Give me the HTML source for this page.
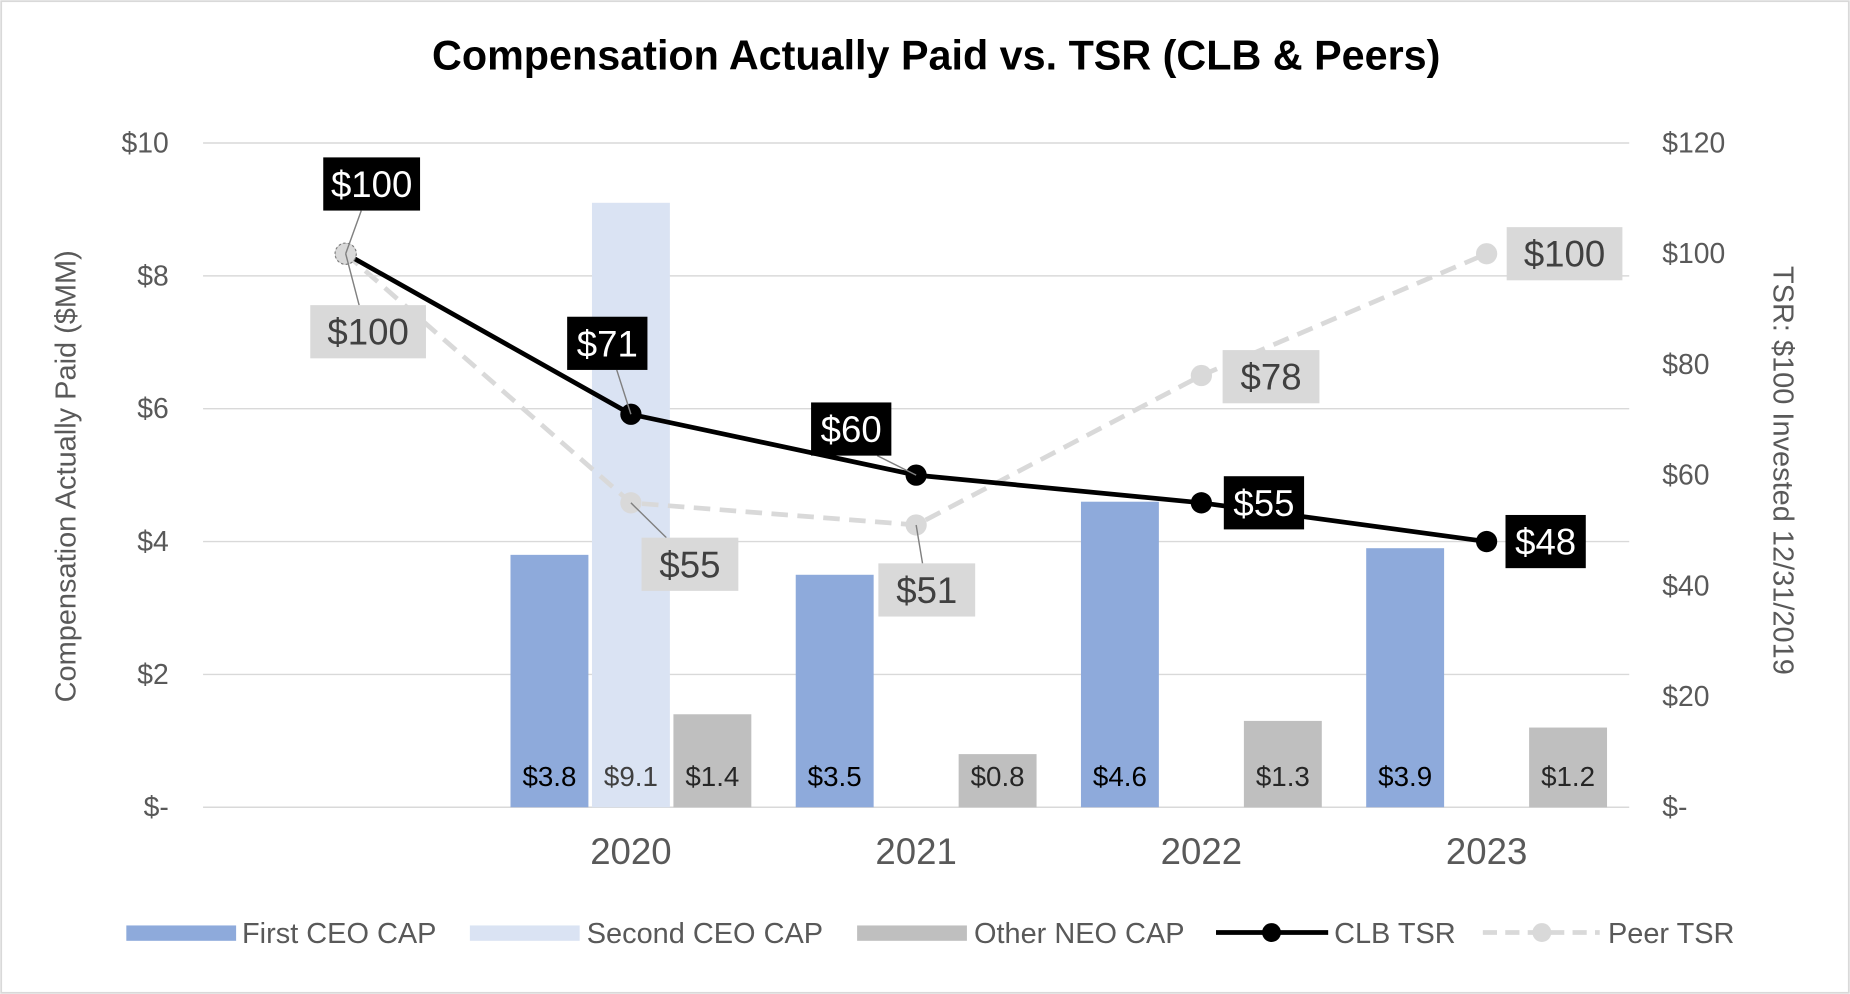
<!DOCTYPE html>
<html><head><meta charset="utf-8"><style>
html,body{margin:0;padding:0;background:#fff;}
svg{display:block;font-family:"Liberation Sans",Arial,sans-serif;}
</style></head><body>
<svg id="chart" width="1850" height="994" viewBox="0 0 1567 841" preserveAspectRatio="none" xmlns="http://www.w3.org/2000/svg">
<rect x="1" y="1" width="1565" height="839" fill="#fff" stroke="#d9d9d9" stroke-width="1.5"/>
<text x="793" y="59" text-anchor="middle" font-size="35" font-weight="bold" fill="#000">Compensation Actually Paid vs. TSR (CLB &amp; Peers)</text>
<g id="grid"></g><g id="bars"></g><g id="lines"></g><g id="labels"></g>
<text transform="translate(64,403) rotate(-90)" text-anchor="middle" font-size="24.5" fill="#595959">Compensation Actually Paid ($MM)</text>
<text transform="translate(1502,398) rotate(90)" text-anchor="middle" font-size="24.5" fill="#595959">TSR: $100 Invested 12/31/2019</text>
<g font-size="24.5" fill="#595959">
<rect x="107" y="783" width="93" height="13" fill="#8eaadb"/>
<text x="205" y="798">First CEO CAP</text>
<rect x="398" y="783" width="93" height="13" fill="#dae3f3"/>
<text x="497" y="798">Second CEO CAP</text>
<rect x="726" y="783" width="93" height="13" fill="#bfbfbf"/>
<text x="825" y="798">Other NEO CAP</text>
<line x1="1030" y1="789" x2="1125" y2="789" stroke="#000" stroke-width="4"/>
<circle cx="1077" cy="789" r="8" fill="#000"/>
<text x="1130" y="798">CLB TSR</text>
<line x1="1256" y1="789" x2="1355" y2="789" stroke="#d9d9d9" stroke-width="4" stroke-dasharray="12,7"/>
<circle cx="1306" cy="789" r="8" fill="#d9d9d9"/>
<text x="1362" y="798">Peer TSR</text>
</g>
</svg>
<script>
const categories = ["", "2020", "2021", "2022", "2023"];
const firstCeo = [null, 3.8, 3.5, 4.6, 3.9];
const secondCeo = [null, 9.1, null, null, null];
const otherNeo = [null, 1.4, 0.8, 1.3, 1.2];
const clbTsr = [100, 71, 60, 55, 48];
const peerTsr = [100, 55, 51, 78, 100];
const leftTicks = ["$-", "$2", "$4", "$6", "$8", "$10"];
const rightTicks = ["$-", "$20", "$40", "$60", "$80", "$100", "$120"];

const NS = "http://www.w3.org/2000/svg";
const X0 = 172, X1 = 1380, Y0 = 683, YT = 121;
const slot = (X1 - X0) / categories.length;
const xC = i => X0 + slot * (i + 0.5);
const yL = v => Y0 - (v / 10) * (Y0 - YT);
const yR = v => Y0 - (v / 120) * (Y0 - YT);
function mk(tag, attrs, parent, text) {
  const e = document.createElementNS(NS, tag);
  for (const k in attrs) e.setAttribute(k, attrs[k]);
  if (text !== undefined) e.textContent = text;
  document.getElementById(parent).appendChild(e);
  return e;
}
leftTicks.forEach((t, i) => {
  const y = yL(i * 2);
  const g = mk("line", {x1: X0, x2: X1, y1: y, y2: y, stroke: "#d9d9d9", "stroke-width": 1.2}, "grid");
  
  
  const l = mk("text", {x: 143, y: y + 8, "text-anchor": "end", "font-size": 24, fill: "#595959"}, "grid", t);
  
  
});
rightTicks.forEach((t, i) => {
  const y = yR(i * 20);
  const l = mk("text", {x: 1408, y: y + 8, "font-size": 24, fill: "#595959"}, "grid", t);
  
  
});
categories.forEach((c, i) => {
  const l = mk("text", {x: xC(i), y: 731, "text-anchor": "middle", "font-size": 31, fill: "#595959"}, "grid", c);
  
  
});
const bw = 66;
const series = [[firstCeo, -69, "#8eaadb", "#000", "bar-first-ceo"], [secondCeo, 0, "#dae3f3", "#404040", "bar-second-ceo"], [otherNeo, 69, "#bfbfbf", "#262626", "bar-other-neo"]];
series.forEach(([arr, off, col, tc, name]) => {
  arr.forEach((v, i) => {
    if (v == null) return;
    const x = xC(i) + off - bw / 2;
    const b = mk("rect", {x: x, y: yL(v), width: bw, height: Y0 - yL(v), fill: col}, "bars");
    
    
    const t = mk("text", {x: x + bw / 2, y: 665, "text-anchor": "middle", "font-size": 23.5, fill: tc}, "bars", "$" + v.toFixed(1));
    
    
  });
});
function pts(arr) { return arr.map((v, i) => xC(i) + "," + yR(v)).join(" "); }
const pl = mk("polyline", {points: pts(peerTsr), fill: "none", stroke: "#d9d9d9", "stroke-width": 4, "stroke-dasharray": "14,8"}, "lines");


peerTsr.forEach((v, i) => {
  if (i === 0) return;
  const c = mk("circle", {cx: xC(i), cy: yR(v), r: 9, fill: "#d9d9d9"}, "lines");
  
  
});
const cl = mk("polyline", {points: pts(clbTsr), fill: "none", stroke: "#000", "stroke-width": 4}, "lines");


clbTsr.forEach((v, i) => {
  const c = mk("circle", {cx: xC(i), cy: yR(v), r: 9, fill: "#000"}, "lines");
  
  
});
const p0 = mk("circle", {cx: xC(0), cy: yR(peerTsr[0]), r: 9, fill: "#d9d9d9", stroke: "#7f7f7f", "stroke-width": 1, "stroke-dasharray": "2,2"}, "lines");



const clbOff = [[22, -59], [-20, -60], [-55, -39], [53, 0], [50, 0]];
const peerOff = [[19, 66], [50, 52], [9, 55], [59, 1], [66, 0]];
function label(arr, offs, fill, tc, name, perChar, pad) {
  arr.forEach((v, i) => {
    const px = xC(i), py = yR(v);
    const cx = px + offs[i][0], cy = py + offs[i][1];
    const txt = "$" + v;
    const w = txt.length * perChar + pad, h = 45;
    if (Math.abs(offs[i][1]) > 30) {
      const ln = mk("polyline", {points: px + "," + py + " " + (cx - offs[i][0] * 0.4) + "," + (cy + (offs[i][1] > 0 ? -h / 2 : h / 2)), fill: "none", stroke: "#808080", "stroke-width": 1.2}, "labels");
      
      
    }
    const r = mk("rect", {x: cx - w / 2, y: cy - h / 2, width: w, height: h, fill: fill}, "labels");
    
    
    const t = mk("text", {x: cx, y: cy + 11, "text-anchor": "middle", "font-size": 31, fill: tc}, "labels", txt);
    
    
  });
}
label(peerTsr, peerOff, "#d9d9d9", "#404040", "peer-tsr-label", 16, 34);
label(clbTsr, clbOff, "#000", "#fff", "clb-tsr-label", 14, 26);
</script>
</body></html>
